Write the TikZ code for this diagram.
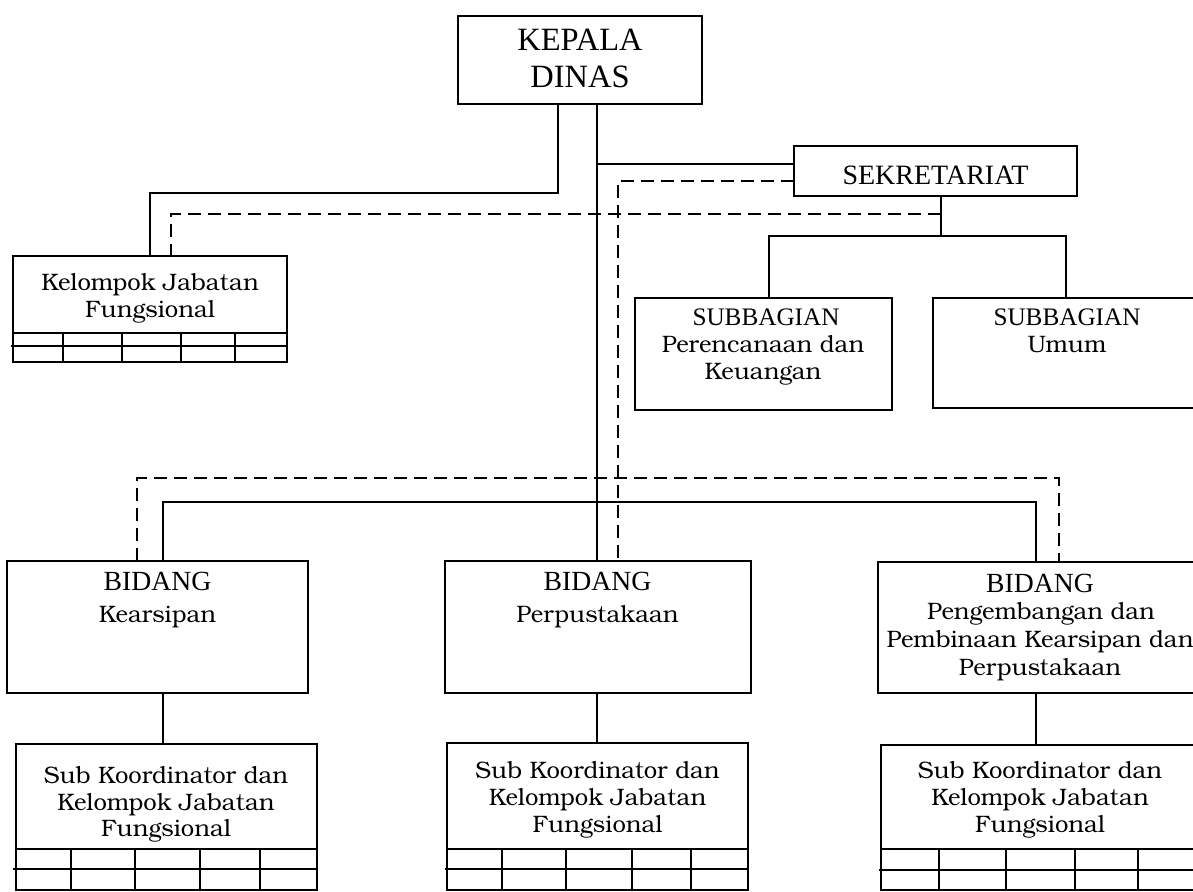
\documentclass[tikz,border=0pt]{standalone}
\usepackage{fontspec}
\newfontfamily\tm{Liberation Serif}
\newfontfamily\bkm[Extension=.otf, UprightFont=*-regular]{texgyrebonum}
\begin{document}
\begin{tikzpicture}[x=1pt,y=-1pt,
  ln/.style={line width=2pt, line cap=rect},
  dl/.style={line width=2pt, dash pattern=on 13pt off 7pt},
  box/.style={draw, line width=2pt, rectangle, inner sep=0pt, outer sep=0pt},
  kdf/.style={font={\tm\fontsize{32.5}{37}\selectfont}, anchor=base, inner sep=0pt},
  sekf/.style={font={\tm\fontsize{28}{32}\selectfont}, anchor=base, inner sep=0pt},
  bidf/.style={font={\tm\fontsize{27.7}{31}\selectfont}, anchor=base, inner sep=0pt},
  subf/.style={font={\tm\fontsize{25.2}{28}\selectfont}, anchor=base, inner sep=0pt},
  bmf/.style={font={\bkm\fontsize{23.8}{27}\selectfont}, anchor=base, inner sep=0pt},
  grid/.style={line width=2pt}
]
\useasboundingbox (0,0) rectangle (1193,891);

% boxes
\node[box, minimum width=244pt, minimum height=88pt] (kd) at (580,60) {};
\node[box, minimum width=283pt, minimum height=50pt] (sek) at (935.5,171) {};
\node[box, minimum width=274pt, minimum height=77pt] (kjf) at (150,294.5) {};
\node[box, minimum width=257pt, minimum height=112pt] (pk) at (763.5,354) {};
\node[box, minimum width=267pt, minimum height=110pt] (um) at (1066.5,353) {};
\node[box, minimum width=301pt, minimum height=132pt] (bk) at (157.5,627) {};
\node[box, minimum width=306pt, minimum height=132pt] (bp) at (598,627) {};
\node[box, minimum width=324pt, minimum height=131pt] (bg) at (1040,627.5) {};
\node[box, minimum width=301pt, minimum height=105pt] (sk1) at (166.5,796.5) {};
\node[box, minimum width=301pt, minimum height=106pt] (sk2) at (597.5,796) {};
\node[box, minimum width=319pt, minimum height=104pt] (sk3) at (1040.5,797) {};

% texts
\node[kdf] (kdT1) at (580,51) {KEPALA};
\node[kdf] (kdT2) at (580,88) {DINAS};
\node[sekf] (sekT) at (935.5,184) {SEKRETARIAT};
\node[bmf] (kjfT1) at (150,290) {Kelompok Jabatan};
\node[bmf] (kjfT2) at (150,317) {Fungsional};
\node[subf] (pkT1) at (766,325) {SUBBAGIAN};
\node[bmf] (pkT2) at (763,352) {Perencanaan dan};
\node[bmf] (pkT3) at (763,379) {Keuangan};
\node[subf] (umT1) at (1067,325) {SUBBAGIAN};
\node[bmf] (umT2) at (1067,352) {Umum};
\node[bidf] (bkT1) at (157.5,590) {BIDANG};
\node[bmf] (bkT2) at (157.5,622) {Kearsipan};
\node[bidf] (bpT1) at (597.5,590) {BIDANG};
\node[bmf] (bpT2) at (597.5,622) {Perpustakaan};
\node[bidf] (bgT1) at (1040,592) {BIDANG};
\node[bmf] (bgT2) at (1041,619) {Pengembangan dan};
\node[bmf] (bgT3) at (1040,647) {Pembinaan Kearsipan dan};
\node[bmf] (bgT4) at (1040,675) {Perpustakaan};
\node[bmf] (sk1T1) at (166,783) {Sub Koordinator dan};
\node[bmf] (sk1T2) at (166,810) {Kelompok Jabatan};
\node[bmf] (sk1T3) at (166,836) {Fungsional};
\node[bmf] (sk2T1) at (597.5,778) {Sub Koordinator dan};
\node[bmf] (sk2T2) at (597.5,805) {Kelompok Jabatan};
\node[bmf] (sk2T3) at (597.5,832) {Fungsional};
\node[bmf] (sk3T1) at (1040,778) {Sub Koordinator dan};
\node[bmf] (sk3T2) at (1040,805) {Kelompok Jabatan};
\node[bmf] (sk3T3) at (1040,832) {Fungsional};

% grids under boxes
\draw[grid] (kjf.south west) rectangle (287,362);
\draw[grid] (11,346) -- (287,346);
\foreach \x in {63,122,181,235} \draw[grid] (\x,333) -- (\x,362);

\draw[grid] (16,849) -- (16,891) (317,849) -- (317,891) (16,890) -- (317,890);
\draw[grid] (13,869) -- (317,869);
\foreach \x in {71,135,200,260} \draw[grid] (\x,849) -- (\x,891);

\draw[grid] (447,849) -- (447,891) (748,849) -- (748,891) (447,890) -- (748,890);
\draw[grid] (445,869) -- (748,869);
\foreach \x in {502,566,632,691} \draw[grid] (\x,849) -- (\x,891);

\draw[grid] (881,849) -- (881,891) (881,890) -- (1200,890);
\draw[grid] (879,870) -- (1200,870);
\foreach \x in {939,1006,1075,1138} \draw[grid] (\x,849) -- (\x,891);

% connectors
\draw[ln] (kd.south -| 558,0) |- (150,193) -- (kjf.north);
\draw[dl] (941,214) -| (kjf.north -| 171,0);
\draw[ln] (kd.south -| 597,0) -- (bp.north -| 597,0);
\draw[ln] (597,164) -- (sek.west |- 0,164);
\draw[dl] (sek.west |- 0,181) -| (bp.north -| 618,0);
\draw[ln] (sek.south -| 941,0) -- (941,236);
\draw[ln] (pk.north -| 769,0) -- (769,236) -- (1066,236) -- (um.north -| 1066,0);
\draw[ln] (bk.north -| 163,0) -- (163,502) -- (1036,502) -- (bg.north -| 1036,0);
\draw[dl] (bk.north -| 137,0) -- (137,478) -- (1059,478) -- (bg.north -| 1059,0);
\draw[ln] (bk.south -| 163,0) -- (sk1.north -| 163,0);
\draw[ln] (bp.south -| 597,0) -- (sk2.north -| 597,0);
\draw[ln] (bg.south -| 1036,0) -- (sk3.north -| 1036,0);
\end{tikzpicture}
\end{document}
